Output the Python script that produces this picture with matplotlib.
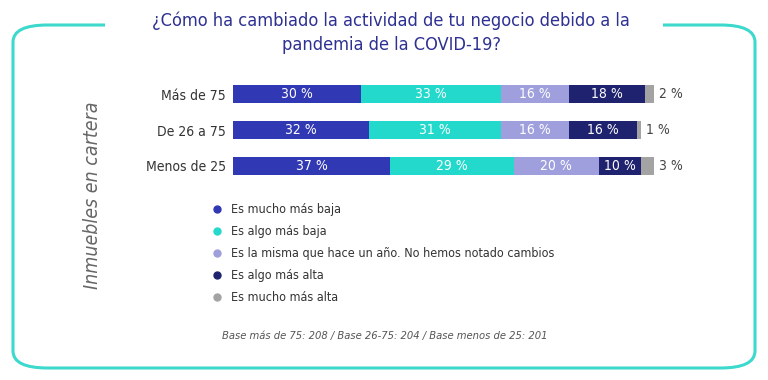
import matplotlib
matplotlib.use("Agg")
import matplotlib.pyplot as plt
from matplotlib.patches import FancyBboxPatch, Rectangle
from matplotlib.lines import Line2D
import numpy as np

# ===== data =====
categories = ["Más de 75", "De 26 a 75", "Menos de 25"]
series_names = ["Es mucho más baja", "Es algo más baja",
                "Es la misma que hace un año. No hemos notado cambios",
                "Es algo más alta", "Es mucho más alta"]
mucho_baja = [30, 32, 37]
algo_baja = [33, 31, 29]
misma = [16, 16, 20]
algo_alta = [18, 16, 10]
mucho_alta = [2, 1, 3]
colors = ["#3138B4", "#22D9CB", "#9E9FDC", "#1F226E", "#A3A3A3"]

title = "¿Cómo ha cambiado la actividad de tu negocio debido a la\npandemia de la COVID-19?"
side_label = "Inmuebles en cartera"
footnote = "Base más de 75: 208 / Base 26-75: 204 / Base menos de 25: 201"

plt.rcParams['font.family'] = ["DejaVu Sans"]
plt.rcParams['font.stretch'] = "condensed"

W, H = 768, 380
fig = plt.figure(figsize=(W / 100, H / 100), dpi=100)

# rounded frame
teal = "#3DD9CC"
frame = FancyBboxPatch((13 / W, 12 / H), 742 / W, 343 / H,
                       boxstyle="round,pad=0,rounding_size=0.045",
                       transform=fig.transFigure, fill=False,
                       edgecolor=teal, linewidth=2.2, zorder=1)
fig.patches.append(frame)
# gap behind title
fig.patches.append(Rectangle((105 / W, 345 / H), 558 / W, 20 / H,
                             transform=fig.transFigure, facecolor="white",
                             edgecolor="none", zorder=2))

fig.text(391 / W, 1 - 33 / H, title, ha="center", va="center",
         fontsize=13.1, color="#2E3192", linespacing=1.4, zorder=3)

# bars
ax = fig.add_axes([233 / W, 1 - 184 / H, 425 / W, 108 / H])
series = [mucho_baja, algo_baja, misma, algo_alta, mucho_alta]
y = np.arange(len(categories))
left = np.zeros(len(categories))
for i, vals in enumerate(series):
    vals = np.array(vals, dtype=float)
    ax.barh(y, vals, left=left, height=0.48, color=colors[i], edgecolor="none")
    for j, v in enumerate(vals):
        if i < 4:
            ax.text(left[j] + v / 2, y[j], f"{int(v)} %", ha="center",
                    va="center", color="white", fontsize=10)
        else:
            ax.text(left[j] + v + 1.2, y[j], f"{int(v)} %", ha="left",
                    va="center", color="#444444", fontsize=10)
    left += vals

ax.set_xlim(0, 100)
ax.set_ylim(len(categories) - 0.5, -0.5)
ax.set_yticks(y)
ax.set_yticklabels(categories, fontsize=10, color="#333333")
ax.tick_params(axis="y", length=0, pad=5)
ax.set_xticks([])
for s in ax.spines.values():
    s.set_visible(False)

# side label
fig.text(92 / W, 1 - 195 / H, side_label, rotation=90, ha="center",
         va="center", fontsize=14, style="italic", color="#666666")

# legend
handles = [Line2D([], [], marker="o", linestyle="none", markersize=5,
                  markerfacecolor=c, markeredgecolor=c) for c in colors]
fig.legend(handles, series_names, loc="upper left",
           bbox_to_anchor=(198 / W, 1 - 192 / H), frameon=False,
           fontsize=9, labelspacing=0.72, handletextpad=0.55,
           handlelength=1.2, labelcolor="#333333")

fig.text(385 / W, 1 - 336 / H, footnote, ha="center", va="center",
         fontsize=8, style="italic", color="#555555")

fig.savefig("out.png", dpi=100)
